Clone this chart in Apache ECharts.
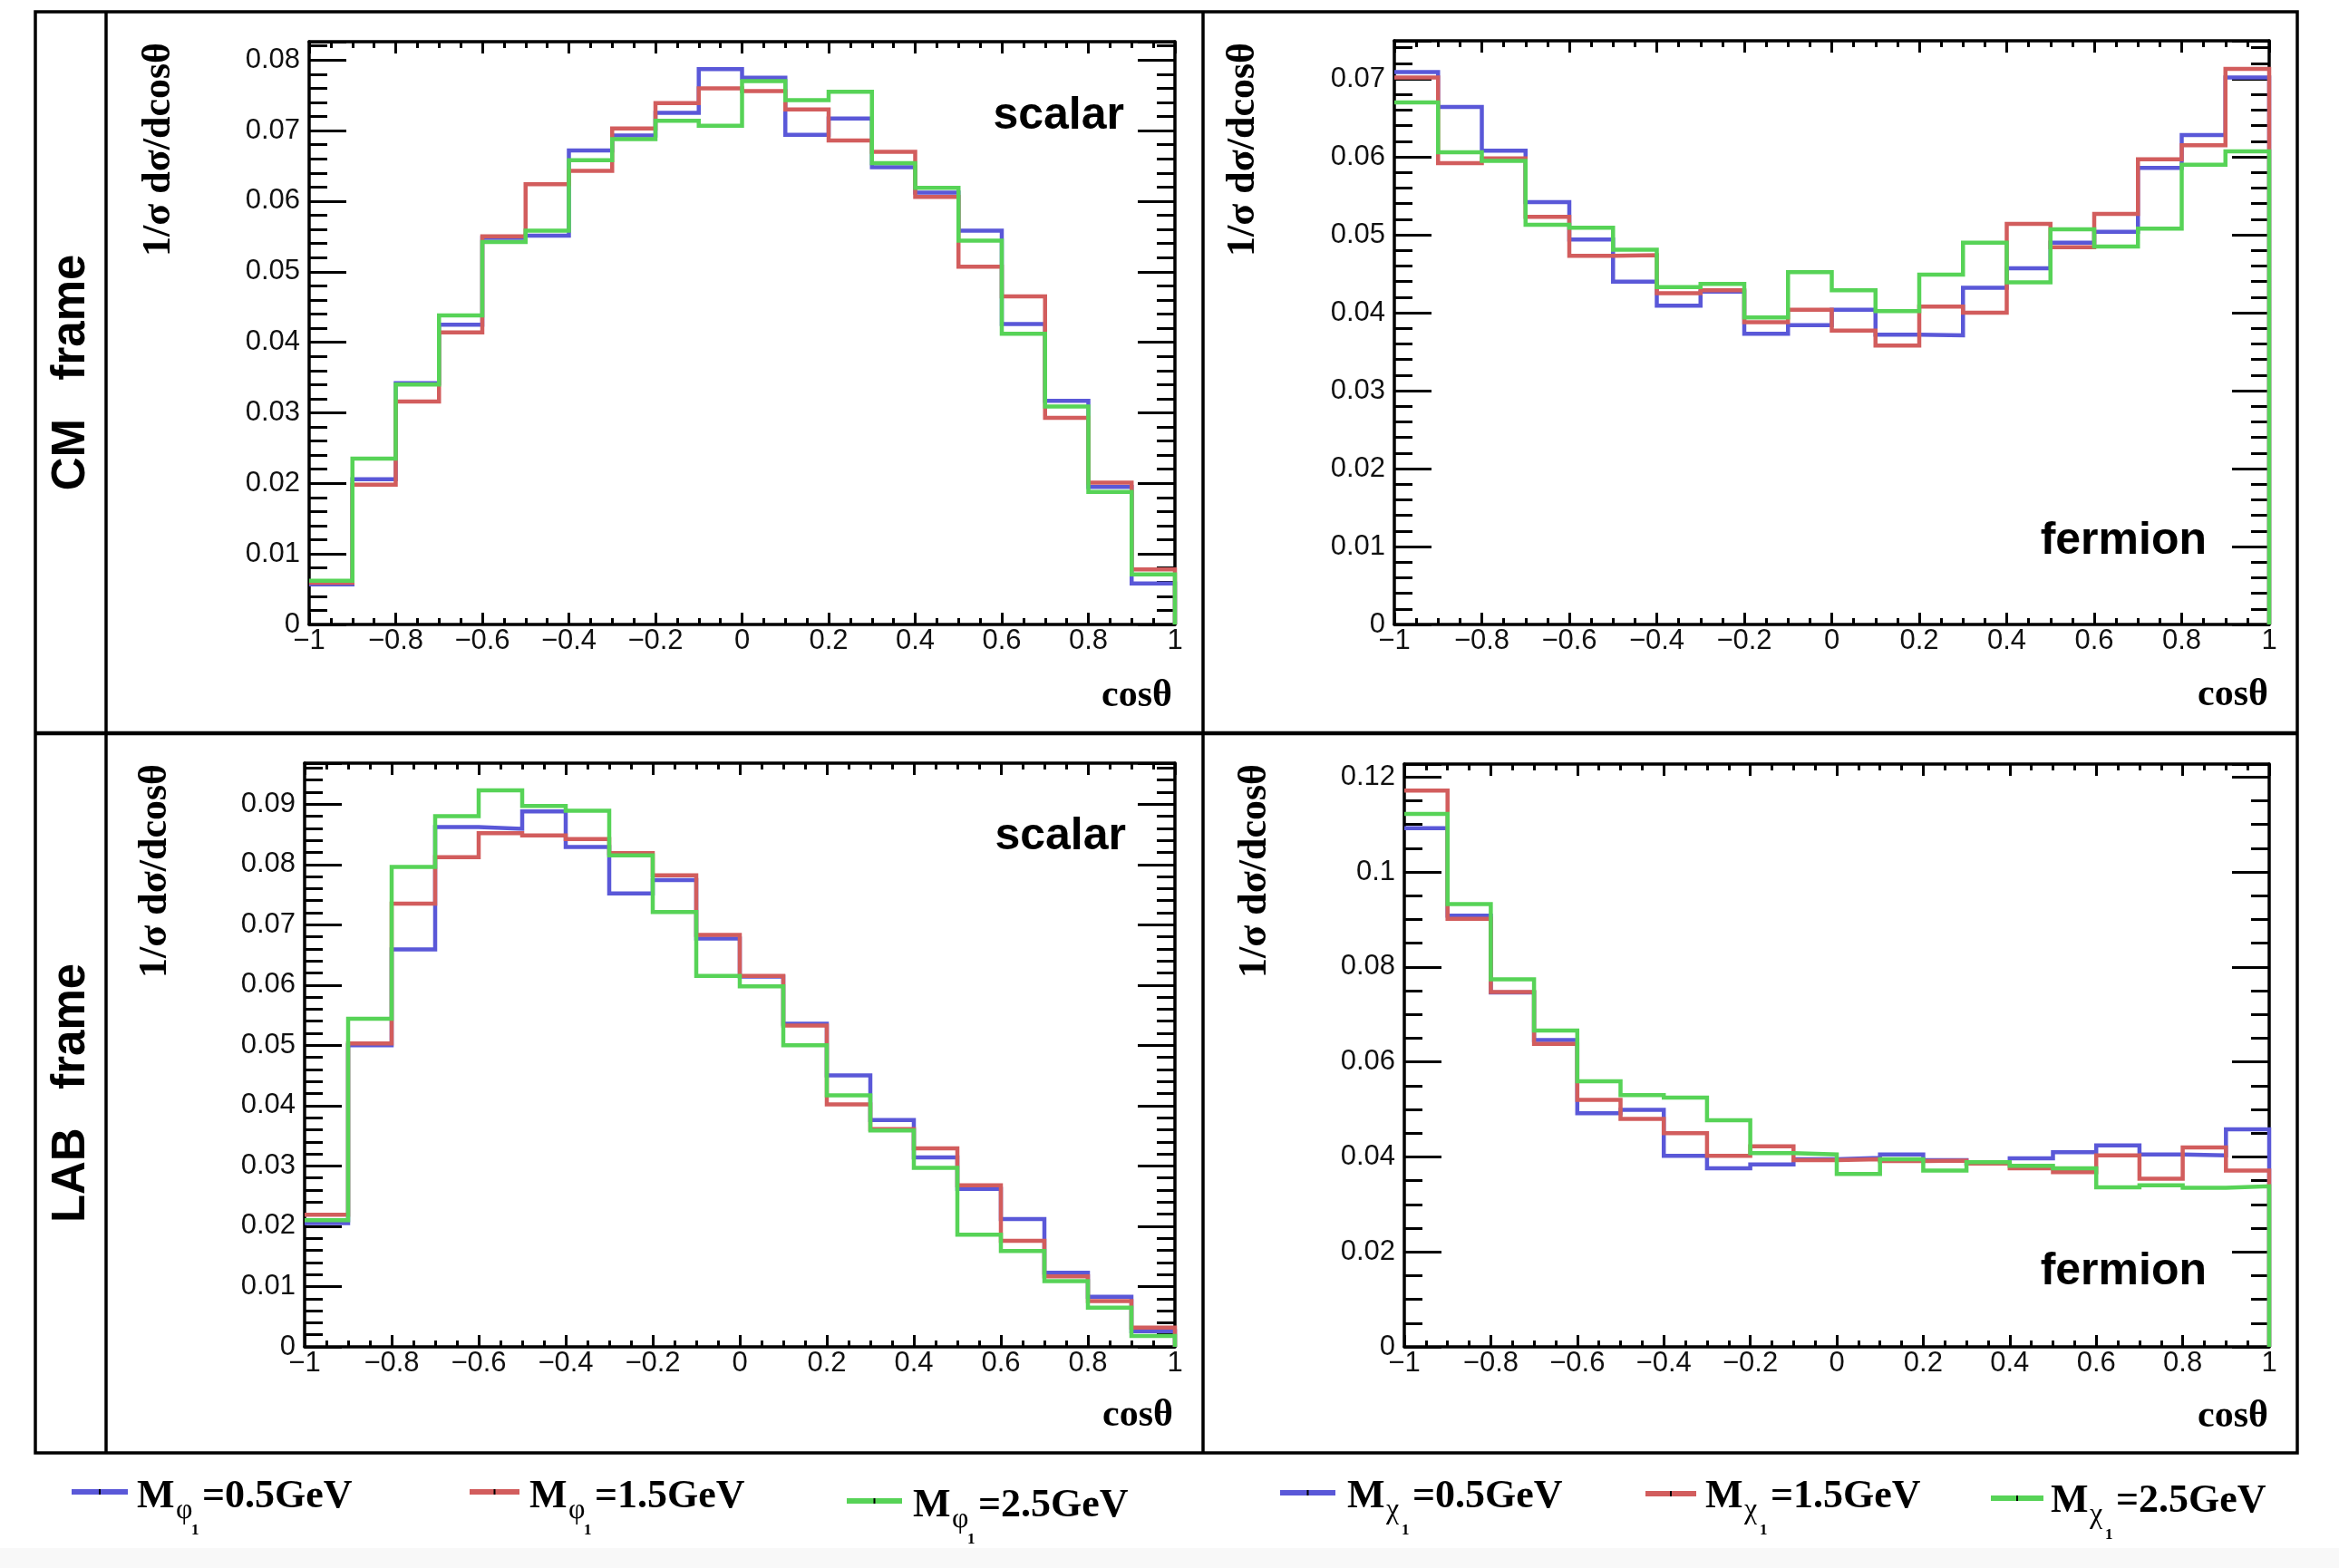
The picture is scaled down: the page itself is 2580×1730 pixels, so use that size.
<!DOCTYPE html>
<html><head><meta charset="utf-8">
<script src="https://cdn.jsdelivr.net/npm/echarts@6/dist/echarts.min.js"></script>
<style>html,body{margin:0;padding:0;background:#fff}#c{width:2580px;height:1730px}</style>
</head><body><div id="c"></div>
<script>
// ---- data ----
const binEdges = [-1,-0.9,-0.8,-0.7,-0.6,-0.5,-0.4,-0.3,-0.2,-0.1,0,0.1,0.2,0.3,0.4,0.5,0.6,0.7,0.8,0.9,1];

const cmScalar05 = [0.0057,0.0206,0.0342,0.0425,0.0548,0.0551,0.0672,0.0693,0.0725,0.0787,0.0775,0.0694,0.0717,0.0648,0.0612,0.0558,0.0426,0.0317,0.0195,0.0058];
const cmScalar15 = [0.0059,0.0198,0.0316,0.0414,0.0550,0.0624,0.0643,0.0703,0.0739,0.0760,0.0756,0.0730,0.0686,0.0670,0.0606,0.0507,0.0465,0.0293,0.0201,0.0078];
const cmScalar25 = [0.0062,0.0235,0.0340,0.0438,0.0542,0.0558,0.0658,0.0688,0.0714,0.0707,0.0770,0.0743,0.0755,0.0654,0.0619,0.0544,0.0412,0.0309,0.0188,0.0071];

const cmFermion05 = [0.0709,0.0664,0.0608,0.0542,0.0494,0.0440,0.0409,0.0427,0.0373,0.0384,0.0404,0.0372,0.0371,0.0432,0.0457,0.0490,0.0504,0.0586,0.0628,0.0702];
const cmFermion15 = [0.0702,0.0592,0.0598,0.0523,0.0473,0.0474,0.0425,0.0429,0.0388,0.0404,0.0377,0.0358,0.0408,0.0400,0.0514,0.0484,0.0527,0.0597,0.0615,0.0713];
const cmFermion25 = [0.0670,0.0606,0.0595,0.0513,0.0509,0.0481,0.0433,0.0437,0.0394,0.0452,0.0429,0.0402,0.0449,0.0490,0.0439,0.0507,0.0485,0.0508,0.0590,0.0607];

const labScalar05 = [0.0205,0.0500,0.0659,0.0862,0.0859,0.0888,0.0829,0.0752,0.0774,0.0677,0.0614,0.0536,0.0450,0.0376,0.0314,0.0262,0.0212,0.0123,0.0083,0.0026];
const labScalar15 = [0.0219,0.0503,0.0735,0.0812,0.0852,0.0848,0.0842,0.0819,0.0782,0.0683,0.0615,0.0533,0.0402,0.0361,0.0329,0.0268,0.0176,0.0117,0.0076,0.0032];
const labScalar25 = [0.0210,0.0544,0.0796,0.0880,0.0923,0.0897,0.0889,0.0815,0.0721,0.0615,0.0598,0.0500,0.0417,0.0359,0.0297,0.0186,0.0159,0.0109,0.0065,0.0018];

const labFermion05 = [0.1092,0.0908,0.0746,0.0646,0.0492,0.0499,0.0402,0.0376,0.0384,0.0395,0.0398,0.0405,0.0393,0.0386,0.0397,0.0410,0.0424,0.0405,0.0403,0.0458];
const labFermion15 = [0.1171,0.0901,0.0747,0.0638,0.0520,0.0480,0.0450,0.0402,0.0422,0.0393,0.0395,0.0391,0.0392,0.0386,0.0376,0.0368,0.0403,0.0354,0.0420,0.0371];
const labFermion25 = [0.1122,0.0932,0.0774,0.0666,0.0559,0.0530,0.0525,0.0477,0.0408,0.0405,0.0364,0.0395,0.0371,0.0389,0.0381,0.0376,0.0336,0.0340,0.0335,0.0338];

const panelTags = ['scalar','fermion','scalar','fermion'];
const rowLabels = ['CM   frame','LAB   frame'];
const yTitle = '1/\u03c3 d\u03c3/dcos\u03b8';
const xTitle = 'cos\u03b8';
const legendGreek = ['\u03c6','\u03c6','\u03c6','\u03c7','\u03c7','\u03c7'];
const legendValues = ['=0.5GeV','=1.5GeV','=2.5GeV','=0.5GeV','=1.5GeV','=2.5GeV'];

// ---- styles / layout ----
const colors = ['#5a58d8','#d25d5d','#57d357'];
const panels = [
  {left:341, top:46, width:955, height:643, ymax:0.0826, yint:0.01, ymin:0.002, data:[cmScalar05,cmScalar15,cmScalar25], tagX:1240, tagB:145, yt:[176,47], xt:[1293,782]},
  {left:1538, top:45, width:965, height:644, ymax:0.0749, yint:0.01, ymin:0.002, data:[cmFermion05,cmFermion15,cmFermion25], tagX:2434, tagB:614, yt:[1372,47], xt:[2502,781]},
  {left:336, top:842, width:960, height:644, ymax:0.0968, yint:0.01, ymin:0.002, data:[labScalar05,labScalar15,labScalar25], tagX:1242, tagB:940, yt:[172,843], xt:[1294,1576]},
  {left:1549, top:843, width:954, height:643, ymax:0.1227, yint:0.02, ymin:0.005, data:[labFermion05,labFermion15,labFermion25], tagX:2434, tagB:1420, yt:[1385,843], xt:[2502,1577]}
];
const legendPos = [
  {x1:79,x2:141,yl:1646,x0:151,b:1667},
  {x1:518,x2:573,yl:1646,x0:584,b:1667},
  {x1:934,x2:995,yl:1656,x0:1007,b:1677},
  {x1:1412,x2:1473,yl:1647,x0:1486,b:1667},
  {x1:1815,x2:1871,yl:1648,x0:1881,b:1667},
  {x1:2196,x2:2254,yl:1653,x0:2262,b:1672}
];

function fmtNum(v){ return String(+(+v).toFixed(4)).replace('-','\u2212'); }

const tickStyle = {color:'#000', width:3};
const grids = [], xAxes = [], yAxes = [], series = [];
panels.forEach((p,g)=>{
  grids.push({left:p.left, top:p.top, width:p.width, height:p.height, containLabel:false});
  const xb = {type:'value', gridIndex:g, min:-1, max:1, splitLine:{show:false}};
  xAxes.push(
    Object.assign({}, xb, {position:'bottom', interval:0.2,
      axisLine:{show:true,onZero:false,lineStyle:{color:'#000',width:3.5}},
      axisTick:{show:true,inside:true,length:13,lineStyle:tickStyle},
      axisLabel:{show:true,margin:3,fontSize:31,fontFamily:'Liberation Sans',color:'#111',formatter:fmtNum}}),
    Object.assign({}, xb, {position:'bottom', interval:0.05,
      axisLine:{show:false,onZero:false},
      axisTick:{show:true,inside:true,length:7,lineStyle:tickStyle},
      axisLabel:{show:false}}),
    Object.assign({}, xb, {position:'top', interval:0.2,
      axisLine:{show:true,onZero:false,lineStyle:{color:'#000',width:3.5}},
      axisTick:{show:true,inside:true,length:13,lineStyle:tickStyle},
      axisLabel:{show:false}}),
    Object.assign({}, xb, {position:'top', interval:0.05,
      axisLine:{show:false,onZero:false},
      axisTick:{show:true,inside:true,length:7,lineStyle:tickStyle},
      axisLabel:{show:false}})
  );
  const yb = {type:'value', gridIndex:g, min:0, max:p.ymax, splitLine:{show:false}};
  const yi = p.yint;
  yAxes.push(
    Object.assign({}, yb, {position:'left', interval:yi,
      axisLine:{show:true,onZero:false,lineStyle:{color:'#000',width:3.5}},
      axisTick:{show:true,inside:true,length:41,lineStyle:tickStyle},
      axisLabel:{show:true,margin:10,fontSize:31,fontFamily:'Liberation Sans',color:'#111',
        formatter:v=>{const r=v/yi; return Math.abs(r-Math.round(r))<1e-6 ? fmtNum(v) : '';}}}),
    Object.assign({}, yb, {position:'left', interval:p.ymin,
      axisLine:{show:false,onZero:false},
      axisTick:{show:true,inside:true,length:20,lineStyle:tickStyle},
      axisLabel:{show:false}}),
    Object.assign({}, yb, {position:'right', interval:yi,
      axisLine:{show:true,onZero:false,lineStyle:{color:'#000',width:3.5}},
      axisTick:{show:true,inside:true,length:41,lineStyle:tickStyle},
      axisLabel:{show:false}}),
    Object.assign({}, yb, {position:'right', interval:p.ymin,
      axisLine:{show:false,onZero:false},
      axisTick:{show:true,inside:true,length:20,lineStyle:tickStyle},
      axisLabel:{show:false}})
  );
  p.data.forEach((vals,k)=>{
    const pts = [];
    for (let i=0;i<vals.length;i++){ pts.push([binEdges[i],vals[i]]); pts.push([binEdges[i+1],vals[i]]); }
    pts.push([binEdges[binEdges.length-1],0]);
    series.push({type:'line', xAxisIndex:4*g, yAxisIndex:4*g, data:pts, symbol:'none', showSymbol:false,
      clip:false, silent:true, animation:false, z:3+k,
      lineStyle:{color:colors[k], width:4.5, join:'miter'}});
  });
});

// ---- graphic (frame, texts, legend) ----
const gr = [];
function txt(x, base, s, fs, fam, weight, align, extra){
  gr.push(Object.assign({type:'text', x:x, y:base-0.34*fs, silent:true, z:10,
    style:{text:s, fontSize:fs, fontFamily:fam, fontWeight:weight, fill:'#000', align:align, verticalAlign:'middle'}}, extra||{}));
}
gr.push({type:'rect', silent:true, z:0, shape:{x:0,y:1708,width:2580,height:22}, style:{fill:'#f8f8f8'}});
gr.push({type:'rect', silent:true, z:10, shape:{x:39,y:13,width:2495,height:1590}, style:{fill:'none',stroke:'#000',lineWidth:3.5}});
gr.push({type:'line', silent:true, z:10, shape:{x1:117,y1:13,x2:117,y2:1603}, style:{stroke:'#000',lineWidth:3.5}});
gr.push({type:'line', silent:true, z:10, shape:{x1:1327,y1:13,x2:1327,y2:1603}, style:{stroke:'#000',lineWidth:3.5}});
gr.push({type:'line', silent:true, z:10, shape:{x1:39,y1:809,x2:2534,y2:809}, style:{stroke:'#000',lineWidth:4.5}});

// row labels
[[79,411],[79,1206]].forEach((c,i)=>{
  gr.push({type:'text', x:c[0], y:c[1], rotation:Math.PI/2, silent:true, z:10,
    style:{text:rowLabels[i], fontSize:51, fontFamily:'Liberation Sans', fontWeight:'bold', fill:'#000', align:'center', verticalAlign:'middle'}});
});

panels.forEach((p,g)=>{
  gr.push({type:'text', x:p.yt[0], y:p.yt[1], rotation:Math.PI/2, silent:true, z:10,
    style:{text:yTitle, fontSize:44, fontFamily:'Liberation Serif', fontWeight:'bold', fill:'#000', align:'right', verticalAlign:'middle'}});
  txt(p.xt[0], p.xt[1], xTitle, 42, 'Liberation Serif', 'bold', 'right');
  txt(p.tagX, p.tagB, panelTags[g], 50, 'Liberation Sans', 'bold', 'right');
});

// legend
legendPos.forEach((L,i)=>{
  const col = colors[i%3];
  gr.push({type:'rect', silent:true, z:10, shape:{x:L.x1,y:L.yl-3,width:L.x2-L.x1,height:6}, style:{fill:col}});
  const mx = (L.x1+L.x2)/2;
  gr.push({type:'rect', silent:true, z:11, shape:{x:mx-1,y:L.yl-3,width:2,height:6}, style:{fill:'#000'}});
  txt(L.x0, L.b, 'M', 44, 'Liberation Serif', 'bold', 'left');
  txt(L.x0+43, L.b+10, legendGreek[i], 32, 'Liberation Serif', 'normal', 'left');
  txt(L.x0+60, L.b+27, '1', 17, 'Liberation Serif', 'bold', 'left');
  txt(L.x0+72, L.b, legendValues[i], 44, 'Liberation Serif', 'bold', 'left');
});

const chart = echarts.init(document.getElementById('c'), null, {renderer:'canvas', width:2580, height:1730});
chart.setOption({
  animation:false,
  backgroundColor:'#ffffff',
  grid:grids, xAxis:xAxes, yAxis:yAxes, series:series,
  graphic:{elements:gr}
});
</script>
</body></html>
